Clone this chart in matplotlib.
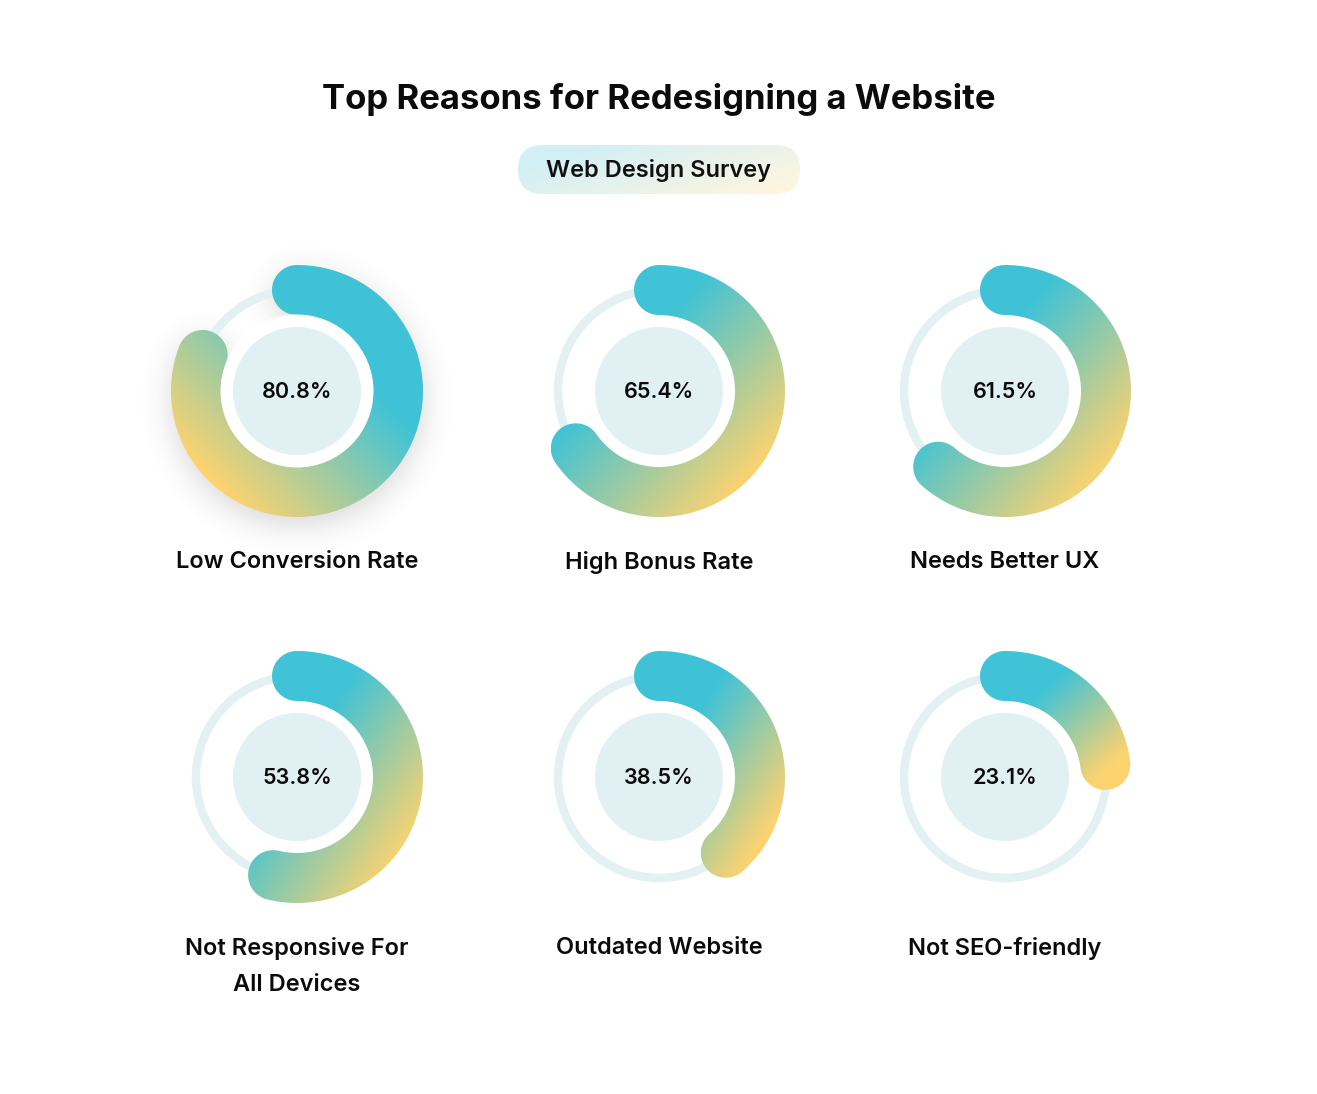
import numpy as np
import matplotlib
matplotlib.use("Agg")
import matplotlib.pyplot as plt
from matplotlib.path import Path
from matplotlib.patches import PathPatch, FancyBboxPatch, Circle

# ---- data ----
title = "Top Reasons for Redesigning a Website"
subtitle = "Web Design Survey"
labels = ["Low Conversion Rate", "High Bonus Rate", "Needs Better UX",
          "Not Responsive For\nAll Devices", "Outdated Website", "Not SEO-friendly"]
values = [80.8, 65.4, 61.5, 53.8, 38.5, 23.1]

# ---- style / layout ----
W, H = 1317, 1094
col_x = [297, 659, 1005]
row_y = [391, 777]
R_MID, HALF_W = 101, 25
TRACK_W = 8.5
INNER_R = 64
CYAN = np.array([0x40, 0xC3, 0xD6]) / 255
YELL = np.array([0xFD, 0xD3, 0x6F]) / 255
TRACK_C = "#E3F1F3"
INNER_C = "#E1F0F2"
FONT = ["Inter", "DejaVu Sans"]

fig = plt.figure(figsize=(W / 100, H / 100), dpi=100)
ax = fig.add_axes([0, 0, 1, 1])
fig.patch.set_facecolor("white")


def pt(cx, cy, r, th):
    return cx + r * np.sin(th), cy - r * np.cos(th)


def arc_path(cx, cy, frac):
    end = 2 * np.pi * frac
    n = 200
    ths = np.linspace(0, end, n)
    ro, ri = R_MID + HALF_W, R_MID - HALF_W
    verts = []
    for th in ths:
        verts.append(pt(cx, cy, ro, th))
    ex, ey = pt(cx, cy, R_MID, end)
    d_out = np.array([np.sin(end), -np.cos(end)])
    d_fw = np.array([np.cos(end), np.sin(end)])
    for a in np.linspace(0, np.pi, 40):
        v = d_out * np.cos(a) + d_fw * np.sin(a)
        verts.append((ex + HALF_W * v[0], ey + HALF_W * v[1]))
    for th in ths[::-1]:
        verts.append(pt(cx, cy, ri, th))
    sx, sy = pt(cx, cy, R_MID, 0)
    for a in np.linspace(0, np.pi, 40):
        v = np.array([0.0, 1.0]) * np.cos(a) + np.array([-1.0, 0.0]) * np.sin(a)
        verts.append((sx + HALF_W * v[0], sy + HALF_W * v[1]))
    verts.append(verts[0])
    codes = [Path.MOVETO] + [Path.LINETO] * (len(verts) - 2) + [Path.CLOSEPOLY]
    return Path(verts, codes)


def gradient_img(x0, x1, y0, y1, flip):
    nx, ny = int(x1 - x0) + 1, int(y1 - y0) + 1
    u = np.linspace(0, 1, nx)[None, :]
    v = np.linspace(0, 1, ny)[:, None]
    if flip:
        u = 1 - u
    t = (u + v) / 2
    s = np.clip((t - 0.35) / (0.85 - 0.35), 0, 1)[..., None]
    return CYAN * (1 - s) + YELL * s


def arc_mask(cx, cy, frac, xs, ys):
    X, Y = np.meshgrid(xs, ys)
    dx, dy = X - cx, cy - Y
    r = np.hypot(dx, dy)
    th = np.mod(np.arctan2(dx, dy), 2 * np.pi)
    end = 2 * np.pi * frac
    m = (np.abs(r - R_MID) <= HALF_W) & (th <= end)
    for a in (0, end):
        px, py = pt(cx, cy, R_MID, a)
        m |= np.hypot(X - px, Y - py) <= HALF_W
    return m.astype(float)


def blur(a, sigma):
    k = np.arange(-3 * sigma, 3 * sigma + 1)
    g = np.exp(-k ** 2 / (2 * sigma ** 2))
    g /= g.sum()
    a = np.apply_along_axis(lambda r: np.convolve(r, g, mode="same"), 1, a)
    a = np.apply_along_axis(lambda c: np.convolve(c, g, mode="same"), 0, a)
    return a


# ---- title & pill ----
ax.text(659, 100, title, ha="center", va="center", fontsize=25, fontweight="bold",
        family=FONT, color="#0B0B0B")
px0, px1, py0, py1 = 518, 800, 145, 194
pill = FancyBboxPatch((px0, py0), px1 - px0, py1 - py0,
                      boxstyle="round,pad=0,rounding_size=24.5",
                      facecolor="none", edgecolor="none")
ax.add_patch(pill)
nx = px1 - px0
u = np.linspace(0, 1, nx)[None, :]
v = np.linspace(0, 1, py1 - py0)[:, None]
tt = np.clip((u * 0.8 + v * 0.4 - 0.2) / 0.9, 0, 1)[..., None]
c0 = np.array([0xD2, 0xEF, 0xF6]) / 255
c1 = np.array([0xFD, 0xF5, 0xE0]) / 255
pim = ax.imshow(c0 * (1 - tt) + c1 * tt, extent=(px0, px1, py1, py0),
                origin="upper", interpolation="bilinear", zorder=1)
pim.set_clip_path(pill)
ax.text(659, 171, subtitle, ha="center", va="center", fontsize=17,
        fontweight="semibold", family=FONT, color="#111111", zorder=3)

# ---- donuts ----
for i, (lab, val) in enumerate(zip(labels, values)):
    cx = col_x[i % 3]
    cy = row_y[i // 3]
    frac = val / 100
    hovered = (i == 0)
    if hovered:
        x0, x1 = cx - 200, cx + 200
        y0, y1 = cy - 190, cy + 220
        xs = np.arange(x0, x1)
        ys = np.arange(y0, y1)
        m = arc_mask(cx, cy + 8, frac, xs, ys)
        b = blur(m, 15)
        img = np.zeros((len(ys), len(xs), 4))
        img[..., :3] = 0.3
        img[..., 3] = 0.22 * b
        ax.imshow(img, extent=(x0, x1, y1, y0), origin="upper",
                  interpolation="bilinear", zorder=1)
    # track
    ax.add_patch(Circle((cx, cy), R_MID, facecolor="none", edgecolor=TRACK_C,
                        linewidth=TRACK_W * 0.72, zorder=2))
    # arc with gradient
    path = arc_path(cx, cy, frac)
    patch = PathPatch(path, facecolor="none", edgecolor="none", zorder=3)
    ax.add_patch(patch)
    xs_, ys_ = path.vertices[:, 0], path.vertices[:, 1]
    gx0, gx1, gy0, gy1 = xs_.min(), xs_.max(), ys_.min(), ys_.max()
    gim = ax.imshow(gradient_img(gx0, gx1, gy0, gy1, hovered),
                    extent=(gx0, gx1, gy1, gy0), origin="upper",
                    interpolation="bilinear", zorder=3)
    gim.set_clip_path(patch)
    if hovered:
        ax.add_patch(Circle((cx, cy), R_MID - HALF_W + 0.5, facecolor="white",
                            edgecolor="none", zorder=4))
    ax.add_patch(Circle((cx, cy), INNER_R, facecolor=INNER_C, edgecolor="none", zorder=5))
    ax.text(cx, cy + 1, f"{val:.1f}%", ha="center", va="center", fontsize=15.5,
            fontweight="semibold", family=FONT, color="#0B0B0B", zorder=6)
    ax.text(cx, cy + 160, lab, ha="center", va="top", fontsize=17,
            fontweight="semibold", family=FONT, color="#0B0B0B",
            linespacing=1.8, zorder=6)

ax.set_xlim(0, W)
ax.set_ylim(H, 0)
ax.set_aspect("auto")
ax.axis("off")
fig.savefig("out.png", dpi=100, facecolor="white")
